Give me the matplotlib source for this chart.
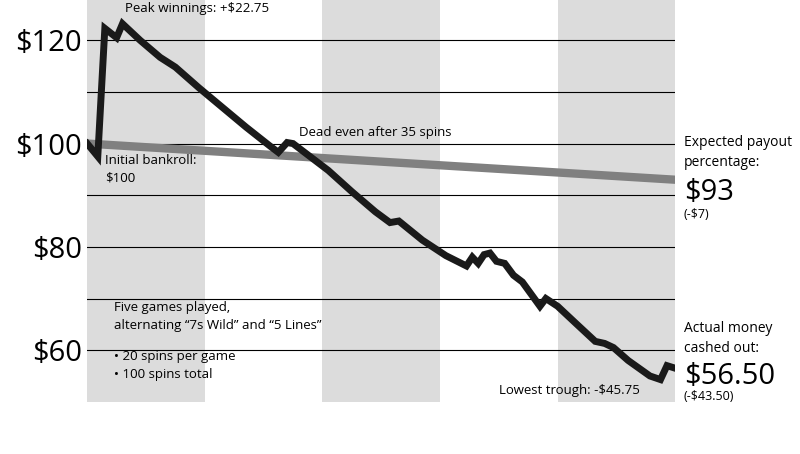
import matplotlib
matplotlib.use("Agg")
import matplotlib.pyplot as plt

spins = [0, 1.8, 3, 5, 6, 9, 12.4, 15, 19, 23, 27, 31, 32.5, 34, 35, 38, 41, 45, 49, 51.5, 53, 57, 61, 64.5, 65.5, 66.5, 67.5, 68.5, 69.6, 71, 72.5, 74, 77, 78, 80, 83, 86.4, 88, 89.5, 92, 95.7, 97.5, 98.6, 100]
bankroll = [100, 97.5, 122.3, 120.5, 123.2, 120, 116.7, 114.8, 110.8, 107, 103.2, 99.6, 98.3, 100.2, 100, 97.4, 94.8, 90.7, 86.8, 84.7, 85, 81.3, 78.3, 76.3, 78, 76.8, 78.5, 78.8, 77.2, 76.8, 74.5, 73.2, 68.5, 70, 68.5, 65.3, 61.7, 61.3, 60.5, 58, 55, 54.3, 57, 56.5]
expected_spins = [0, 100]
expected_vals = [100, 93]
yticks = [60, 80, 100, 120]
ytick_labels = ["$60", "$80", "$100", "$120"]
band_starts = [0, 40, 80]

plt.rcParams["font.family"] = "Open Sans"
fig = plt.figure(figsize=(8, 4.54), dpi=100)
ax = fig.add_axes([0.109, 0.115, 0.735, 0.885])
ax.set_xlim(0, 100)
ax.set_ylim(50, 127.8)
for b in band_starts:
    ax.axvspan(b, b + 20, color="#dcdcdc", lw=0, zorder=0)
for g in range(60, 130, 10):
    ax.axhline(g, color="black", lw=0.8, zorder=1)
ax.plot(expected_spins, expected_vals, color="#808080", lw=6, solid_capstyle="butt", zorder=2)
ax.plot(spins, bankroll, color="#1a1a1a", lw=5, solid_joinstyle="miter", zorder=3)
ax.set_yticks(yticks)
ax.set_yticklabels(ytick_labels, fontsize=21)
ax.tick_params(axis="y", length=0, pad=4)
ax.set_xticks([])
for s in ax.spines.values():
    s.set_visible(False)

kw = dict(fontsize=9.5, color="black")
ax.text(6.5, 125.5, "Peak winnings: +$22.75", **kw)
ax.text(36, 101.5, "Dead even after 35 spins", **kw)
ax.text(3, 95, "Initial bankroll:\n$100", va="center", linespacing=1.4, **kw)
ax.text(4.5, 66.5, "Five games played,\nalternating “7s Wild” and “5 Lines”", va="center", linespacing=1.5, **kw)
ax.text(4.5, 57, "• 20 spins per game\n• 100 spins total", va="center", linespacing=1.5, **kw)
ax.text(70, 51.5, "Lowest trough: -$45.75", **kw)

fig.text(0.855, 0.635, "Expected payout\npercentage:", fontsize=10, linespacing=1.4)
fig.text(0.855, 0.56, "$93", fontsize=21)
fig.text(0.855, 0.52, "(-$7)", fontsize=9)
fig.text(0.855, 0.225, "Actual money\ncashed out:", fontsize=10, linespacing=1.4)
fig.text(0.855, 0.155, "$56.50", fontsize=21)
fig.text(0.855, 0.12, "(-$43.50)", fontsize=9)

fig.savefig("out.png", dpi=100)
